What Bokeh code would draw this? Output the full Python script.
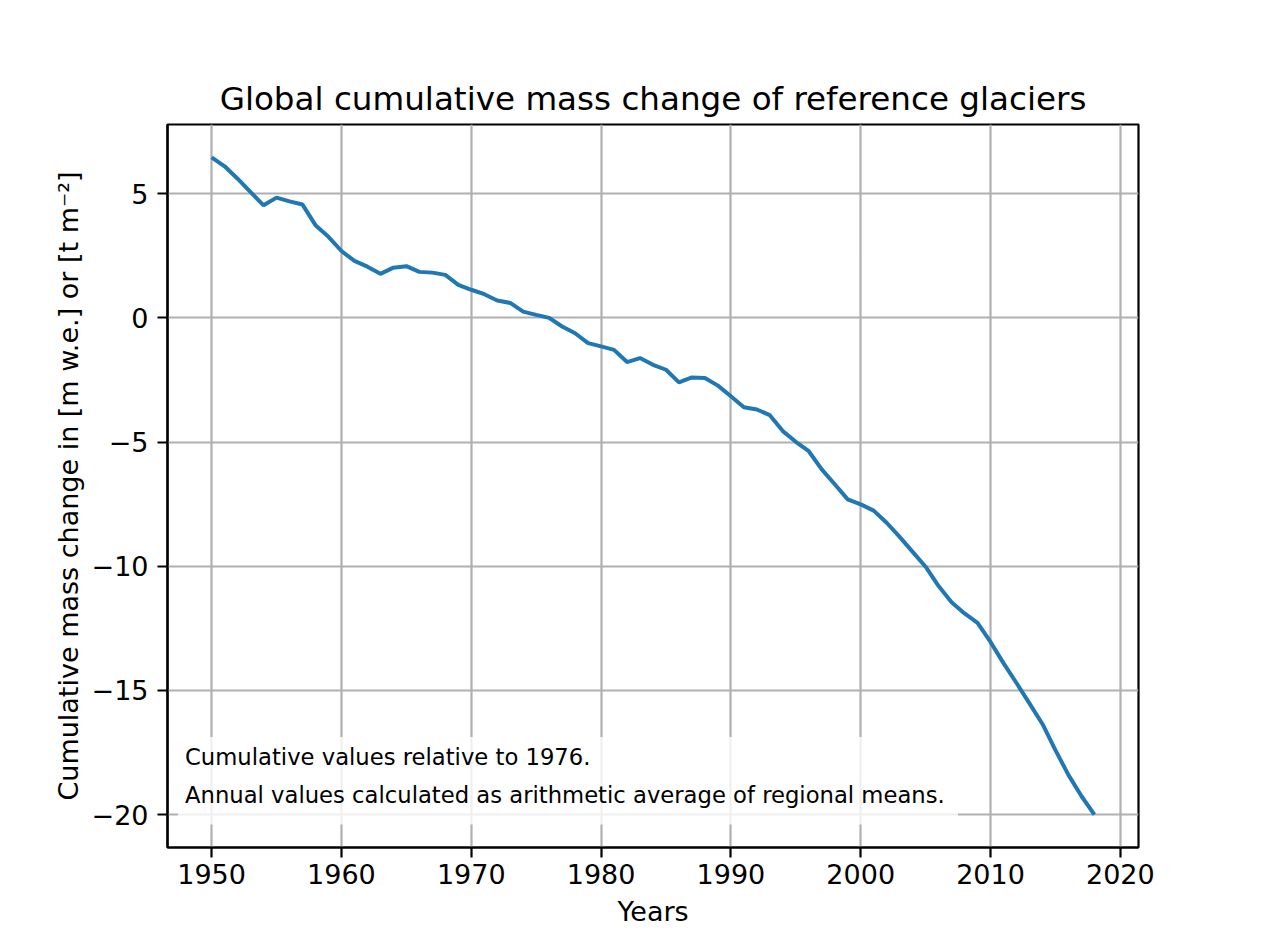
from bokeh.plotting import figure
from bokeh.models import Range1d, FixedTicker, Label, BoxAnnotation
from bokeh.embed import file_html
from bokeh.resources import INLINE

years = list(range(1950, 2019))
cum_mass = [
    6.46, 6.10, 5.60, 5.06, 4.53, 4.84, 4.69, 4.56, 3.73, 3.26,
    2.69, 2.29, 2.06, 1.77, 2.02, 2.08, 1.85, 1.82, 1.73, 1.33,
    1.13, 0.95, 0.70, 0.60, 0.25, 0.12, 0.00, -0.35, -0.62, -1.02,
    -1.15, -1.29, -1.78, -1.62, -1.89, -2.09, -2.60, -2.40, -2.42, -2.73,
    -3.16, -3.60, -3.69, -3.92, -4.56, -4.99, -5.37, -6.10, -6.70, -7.31,
    -7.51, -7.76, -8.25, -8.82, -9.42, -10.02, -10.80, -11.45, -11.90, -12.28,
    -13.05, -13.90, -14.70, -15.52, -16.35, -17.40, -18.40, -19.25, -20.00,
]

x_ticks = [1950, 1960, 1970, 1980, 1990, 2000, 2010, 2020]
y_ticks = [-20, -15, -10, -5, 0, 5]

title_text = "Global cumulative mass change of reference glaciers"
x_label = "Years"
y_label = "Cumulative mass change in [m w.e.] or [t m\u207b\u00b2]"
notes = ["Cumulative values relative to 1976.",
         "Annual values calculated as arithmetic average of regional means."]

FONT = "DejaVu Sans"

xmin, xmax = min(years), max(years)
ymin, ymax = min(cum_mass), max(cum_mass)
xpad = 0.05 * (xmax - xmin)
ypad = 0.05 * (ymax - ymin)

p = figure(width=1247, height=929, output_backend="svg", toolbar_location=None,
           x_range=Range1d(xmin - xpad, xmax + xpad),
           y_range=Range1d(ymin - ypad, ymax + ypad),
           min_border_left=167, min_border_right=109,
           min_border_top=124, min_border_bottom=81)

p.title.text = title_text
p.title.align = "center"
p.title.text_font = FONT
p.title.text_font_size = "32.6px"
p.title.text_font_style = "normal"
p.title.text_color = "black"
p.title.standoff = 14

p.background_fill_color = "white"
p.border_fill_color = "white"
p.outline_line_color = "black"
p.outline_line_width = 2.2
p.outline_line_alpha = 1.0

for ax in (p.xaxis[0], p.yaxis[0]):
    ax.axis_line_width = 2.2
    ax.axis_line_color = "black"
    ax.major_tick_line_width = 2.2
    ax.major_tick_line_color = "black"
    ax.major_tick_out = 10
    ax.major_tick_in = 0
    ax.minor_tick_line_color = None
    ax.major_label_text_font = FONT
    ax.major_label_text_font_size = "27px"
    ax.major_label_text_color = "black"
    ax.axis_label_text_font = FONT
    ax.axis_label_text_font_size = "27px"
    ax.axis_label_text_font_style = "normal"
    ax.axis_label_text_color = "black"

p.xaxis.ticker = FixedTicker(ticks=x_ticks)
p.yaxis.ticker = FixedTicker(ticks=y_ticks)
p.yaxis.major_label_overrides = {t: str(t).replace("-", "\u2212") for t in y_ticks}
p.xaxis.axis_label = x_label
p.yaxis.axis_label = y_label
p.xaxis.major_label_standoff = 6
p.yaxis.major_label_standoff = 9
p.xaxis.axis_label_standoff = 9
p.yaxis.axis_label_standoff = 5

p.grid.grid_line_color = "#b0b0b0"
p.grid.grid_line_width = 2.2
p.grid.grid_line_alpha = 1.0

p.line(years, cum_mass, line_color="#1f77b4", line_width=4)

# legend-like note box (semi-transparent white, no frame)
x0 = xmin - xpad
box = BoxAnnotation(left=x0 + 0.8, right=x0 + 60.9, top=-16.87, bottom=-20.40,
                    fill_color="white", fill_alpha=0.8, line_color=None)
p.add_layout(box)
for txt, yy in zip(notes, [-17.69, -19.19]):
    p.add_layout(Label(x=x0 + 1.35, y=yy, text=txt, text_font=FONT,
                       text_font_size="22.7px", text_color="black",
                       text_baseline="alphabetic", text_align="left"))

open("out.html", "w").write(file_html(p, INLINE))
